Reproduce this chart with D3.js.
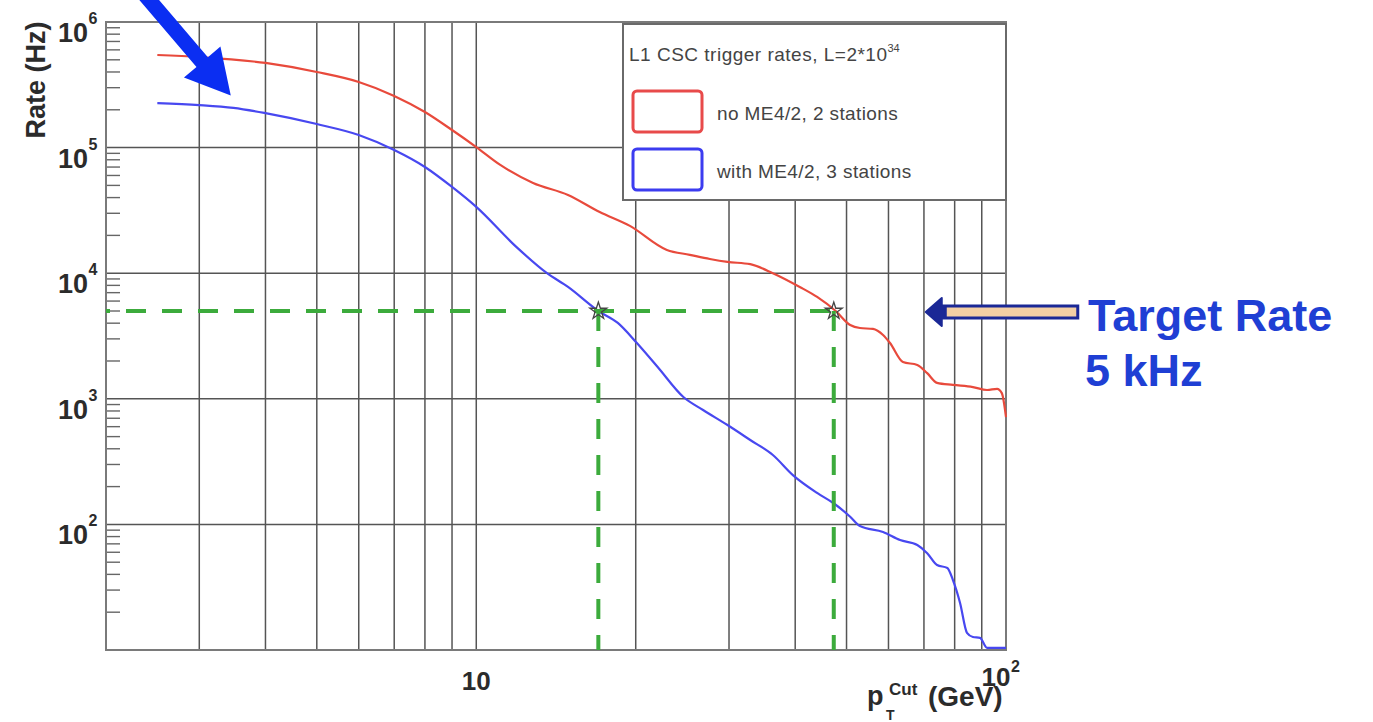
<!DOCTYPE html>
<html><head><meta charset="utf-8">
<script src="https://cdn.jsdelivr.net/npm/d3@7"></script>
<style>html,body{margin:0;padding:0;background:#fff;} svg{display:block;}</style>
</head><body>
<svg id="chart" width="1373" height="722"></svg>
<script>
// ---------------- data ----------------
const redPt   = [2.5, 3, 4, 5, 6, 7, 8, 9, 10, 11.1, 12.8, 14.9, 17.1, 19.5, 22.9, 25.3, 27.6, 29.8, 32.9, 36.3, 40.8, 44.0, 47.7, 50.8, 53.0, 56.1, 58.6, 60.4, 63.9, 68.0, 71.0, 74.1, 79.4, 86.6, 92.1, 96.2, 98.2, 100];
const redRate = [546000, 526000, 472000, 400000, 333000, 258000, 192000, 138000, 101000, 72800, 52300, 42000, 30700, 23800, 15300, 14000, 12970, 12300, 11800, 10000, 7770, 6470, 5000, 3870, 3660, 3600, 3220, 2780, 1960, 1860, 1600, 1340, 1290, 1240, 1175, 1200, 1110, 716];
const bluePt   = [2.5, 3, 3.48, 4, 5, 6, 7, 8, 9, 10, 11.9, 13.6, 14.9, 17.0, 18.5, 20.1, 22.0, 24.6, 26.8, 29.8, 32.9, 36.3, 39.6, 44.0, 47.2, 50.8, 53.0, 58.6, 63.1, 68.0, 71.0, 74.1, 77.5, 79.4, 81.9, 84.4, 86.6, 89.3, 92.1, 100];
const blueRate = [226000, 218000, 207000, 188000, 154000, 126000, 95700, 70100, 48600, 33700, 16200, 10000, 7770, 5000, 4020, 2780, 1790, 1033, 815, 618, 470, 357, 247, 178, 148, 115, 97, 87, 75, 68.5, 59, 47.5, 45, 36, 23.7, 13.7, 12.7, 12.5, 10.4, 10.4];
const seriesNames = ["no ME4/2, 2 stations", "with ME4/2, 3 stations"];
const legendTitle = "L1 CSC trigger rates, L=2*10";
const legendTitleSup = "34";
const targetRate = 5000;
const targetPt = [17.0, 47.3];
const xTickVals = [10, 100];
const xTickBase = ["10", "10"];
const xTickSup = ["", "2"];
const yTickVals = [1e2, 1e3, 1e4, 1e5, 1e6];
const yTickSup = ["2", "3", "4", "5", "6"];
const yTitle = "Rate (Hz)";
const annotationLines = ["Target Rate", "5 kHz"];

// ---------------- setup ----------------
const FONT = "'Liberation Sans', Arial, Helvetica, sans-serif";
const svg = d3.select("#chart");
const m = {left: 106, right: 1006, top: 22, bottom: 650};
const x = d3.scaleLog().domain([2, 100]).range([m.left, m.right]);
const y = d3.scaleLog().domain([10, 1e6]).range([m.bottom, m.top]);
const GRID = "#555";
const TXT = "#2b2b2b";

// grid: vertical lines at every 1..9 x decade inside domain
const xGrid = [];
[1, 10].forEach(d => { for (let k = 1; k <= 9; k++) { const v = k * d; if (v > 2 && v < 100) xGrid.push(v); } });
svg.append("g").selectAll("line").data(xGrid).join("line")
  .attr("x1", d => x(d)).attr("x2", d => x(d))
  .attr("y1", m.top).attr("y2", m.bottom)
  .attr("stroke", GRID).attr("stroke-width", 1.5);
svg.append("g").selectAll("line").data(yTickVals.filter(v => v < 1e6)).join("line")
  .attr("x1", m.left).attr("x2", m.right)
  .attr("y1", d => y(d)).attr("y2", d => y(d))
  .attr("stroke", GRID).attr("stroke-width", 1.5);

// minor ticks on y axis
const yMinor = [];
[10, 100, 1000, 1e4, 1e5].forEach(d => { for (let k = 2; k <= 9; k++) yMinor.push(k * d); });
svg.append("g").selectAll("line").data(yMinor).join("line")
  .attr("x1", m.left).attr("x2", m.left + 14)
  .attr("y1", d => y(d)).attr("y2", d => y(d))
  .attr("stroke", "#666").attr("stroke-width", 1.4);

// frame
svg.append("rect").attr("x", m.left).attr("y", m.top)
  .attr("width", m.right - m.left).attr("height", m.bottom - m.top)
  .attr("fill", "none").attr("stroke", "#7a7a7a").attr("stroke-width", 2);

// legend (drawn above grid)
const lg = svg.append("g");
lg.append("rect").attr("x", 623).attr("y", 24).attr("width", 383).attr("height", 176)
  .attr("fill", "#fff").attr("stroke", "#6a6a6a").attr("stroke-width", 2);
const lt = lg.append("text").attr("x", 629).attr("y", 61)
  .attr("font-family", FONT).attr("font-size", 19).attr("letter-spacing", 0.5).attr("fill", "#444");
lt.append("tspan").text(legendTitle);
lt.append("tspan").attr("dy", -9).attr("font-size", 11).attr("letter-spacing", 0).text(legendTitleSup);
const colors = ["#e84a3c", "#4848f0"];
const boxColors = ["#e84a4a", "#3c3cf0"];
[0, 1].forEach(i => {
  lg.append("rect").attr("x", 633).attr("y", 91 + i * 58).attr("width", 69).attr("height", 41)
    .attr("rx", 4).attr("fill", "none").attr("stroke", boxColors[i]).attr("stroke-width", 3);
  lg.append("text").attr("x", 717).attr("y", 120 + i * 58)
    .attr("font-family", FONT).attr("font-size", 19).attr("letter-spacing", 0.4).attr("fill", "#444").text(seriesNames[i]);
});

// curves
const line = d3.line().x(d => x(d[0])).y(d => y(d[1])).curve(d3.curveMonotoneX);
const redData = redPt.map((p, i) => [p, redRate[i]]);
const blueData = bluePt.map((p, i) => [p, blueRate[i]]);
svg.append("path").datum(redData).attr("d", line).attr("fill", "none")
  .attr("stroke", colors[0]).attr("stroke-width", 2.2);
svg.append("path").datum(blueData).attr("d", line).attr("fill", "none")
  .attr("stroke", colors[1]).attr("stroke-width", 2.2);

// target lines
const ty = y(targetRate);
const GREEN = "#3cab3c";
svg.append("line").attr("x1", m.left).attr("x2", x(targetPt[1]) + 3)
  .attr("y1", ty).attr("y2", ty)
  .attr("stroke", GREEN).attr("stroke-width", 4).attr("stroke-dasharray", "20,16").attr("stroke-dashoffset", 16);
targetPt.forEach(p => {
  svg.append("line").attr("x1", x(p)).attr("x2", x(p)).attr("y1", ty).attr("y2", m.bottom)
    .attr("stroke", GREEN).attr("stroke-width", 4).attr("stroke-dasharray", "20,16");
});
// star markers
svg.append("g").selectAll("path").data(targetPt).join("path")
  .attr("transform", d => `translate(${x(d)},${ty})`)
  .attr("d", d3.symbol().type(d3.symbolStar).size(90))
  .attr("fill", "none").attr("stroke", "#444").attr("stroke-width", 1.3);

// y tick labels
yTickVals.forEach((v, i) => {
  const yy = y(v);
  svg.append("text").attr("x", 88).attr("y", yy + 20).attr("text-anchor", "end")
    .attr("font-family", FONT).attr("font-weight", "bold").attr("font-size", 27).attr("fill", TXT).text("10");
  svg.append("text").attr("x", 88.5).attr("y", yy + 2)
    .attr("font-family", FONT).attr("font-weight", "bold").attr("font-size", 16).attr("fill", TXT).text(yTickSup[i]);
});
// y title
svg.append("text").attr("transform", "translate(45,80) rotate(-90)").attr("text-anchor", "middle")
  .attr("font-family", FONT).attr("font-weight", "bold").attr("font-size", 27).attr("fill", TXT).text(yTitle);

// x tick labels
xTickVals.forEach((v, i) => {
  const xx = x(v) - (xTickSup[i] ? 10 : 0);
  const by = xTickSup[i] ? 686 : 690;
  svg.append("text").attr("x", xx).attr("y", by).attr("text-anchor", "middle")
    .attr("font-family", FONT).attr("font-weight", "bold").attr("font-size", 26).attr("fill", TXT).text(xTickBase[i]);
  if (xTickSup[i]) svg.append("text").attr("x", xx + 15).attr("y", by - 14)
    .attr("font-family", FONT).attr("font-weight", "bold").attr("font-size", 16).attr("fill", TXT).text(xTickSup[i]);
});
// x title
const xt = svg.append("g").attr("font-family", FONT).attr("font-weight", "bold").attr("fill", TXT);
xt.append("text").attr("x", 867).attr("y", 705).attr("font-size", 27).text("p");
xt.append("text").attr("x", 886).attr("y", 720).attr("font-size", 14).text("T");
xt.append("text").attr("x", 889).attr("y", 695).attr("font-size", 17).text("Cut");
xt.append("text").attr("x", 928).attr("y", 706).attr("font-size", 28).text("(GeV)");

// target-rate annotation arrow
const ax = x(targetPt[1]) + 92;
const shaft = [[ax + 14, ty - 5], [ax + 152, ty - 5], [ax + 152, ty + 7], [ax + 14, ty + 7]];
svg.append("polygon").attr("points", shaft.map(p => p.join(",")).join(" "))
  .attr("fill", "#f3cfa4").attr("stroke", "#1b2896").attr("stroke-width", 3);
const head = [[ax, ty + 1], [ax + 16, ty - 13], [ax + 16, ty - 5], [ax + 20, ty - 5], [ax + 20, ty + 7], [ax + 16, ty + 7], [ax + 16, ty + 15]];
svg.append("polygon").attr("points", head.map(p => p.join(",")).join(" "))
  .attr("fill", "#1b2896").attr("stroke", "#1b2896").attr("stroke-width", 2).attr("stroke-linejoin", "round");
svg.append("text").attr("x", 1088).attr("y", ty + 20)
  .attr("font-family", FONT).attr("font-weight", "bold").attr("font-size", 45).attr("fill", "#1f3fd4").text(annotationLines[0]);
svg.append("text").attr("x", 1085).attr("y", ty + 75)
  .attr("font-family", FONT).attr("font-weight", "bold").attr("font-size", 45).attr("fill", "#1f3fd4").text(annotationLines[1]);

// big blue pointer arrow (top-left) pointing at blue curve
(function () {
  const tip = [x(3.44), y(2.6e5)];
  const tail = [tip[0] - 88, tip[1] - 103];
  const L = Math.hypot(tip[0] - tail[0], tip[1] - tail[1]);
  const u = [(tip[0] - tail[0]) / L, (tip[1] - tail[1]) / L];
  const n = [u[1], -u[0]];
  const hl = 44, hw = 24, sw = 7.5;
  const b = [tip[0] - hl * u[0], tip[1] - hl * u[1]];
  const pts = [
    [tail[0] + sw * n[0], tail[1] + sw * n[1]],
    [b[0] + sw * n[0], b[1] + sw * n[1]],
    [b[0] + hw * n[0], b[1] + hw * n[1]],
    tip,
    [b[0] - hw * n[0], b[1] - hw * n[1]],
    [b[0] - sw * n[0], b[1] - sw * n[1]],
    [tail[0] - sw * n[0], tail[1] - sw * n[1]]
  ];
  svg.append("polygon").attr("points", pts.map(p => p.join(",")).join(" ")).attr("fill", "#0b2ef2");
})();
</script>
</body></html>
